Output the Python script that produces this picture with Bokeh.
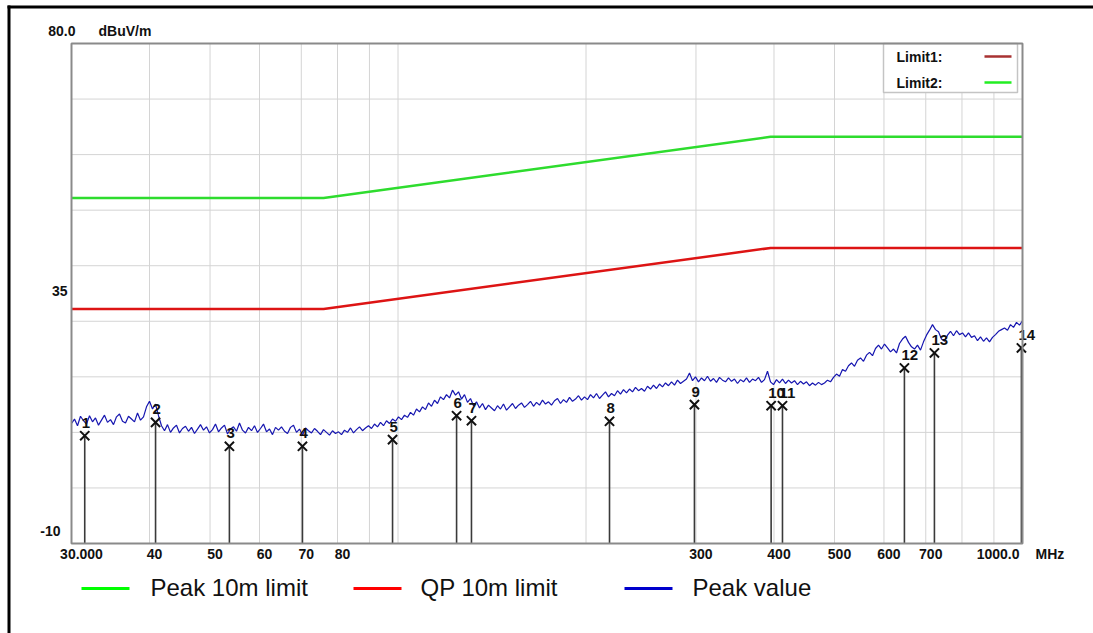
import numpy as np
from bokeh.plotting import figure
from bokeh.models import Range1d
from bokeh.core.properties import value
from bokeh.embed import file_html
from bokeh.resources import INLINE

# ---- data -----------------------------------------------------------------
f_min, f_max = 30, 1000          # MHz
y_min, y_max = -10, 80           # dBuV/m

# limit lines (dBuV/m) at their break frequencies (MHz)
limit_freq = [30, 76, 395, 1000]
qp_limit = [32.2, 32.2, 43.2, 43.2]
peak_limit = [52.2, 52.2, 63.2, 63.2]

# peak detector sweep, 30 MHz .. 1 GHz (log-spaced sweep points)
trace_db = [
    11.6, 12.4, 11.2, 12.9, 12.1, 11.5, 13.0, 11.9, 12.6, 11.3,
    12.2, 13.1, 11.8, 12.3, 11.4, 12.8, 13.3, 12.0, 11.7, 12.9,
    12.4, 11.9, 13.5, 12.2, 12.8, 14.6, 15.6, 14.2, 15.1, 13.0,
    11.2, 10.3, 11.4, 10.0, 10.8, 11.3, 9.9, 10.7, 11.1, 10.2,
    10.9, 9.8, 10.6, 11.4, 10.4, 11.0, 9.9, 10.5, 11.5, 10.1,
    10.8, 11.3, 9.7, 10.6, 11.0, 10.2, 11.7, 10.4, 9.9, 10.9,
    10.3, 11.2, 10.0, 10.7, 11.5, 10.1, 10.6, 9.6, 10.9, 10.4,
    11.0, 10.2, 9.8, 10.9, 11.3, 10.0, 10.6, 9.5, 10.8, 10.3,
    9.9, 10.7, 10.2, 9.6, 10.5, 10.0, 9.5, 10.3, 9.8, 10.1,
    9.6, 10.4, 10.0, 10.8, 9.9, 10.5, 11.0, 10.3, 10.8, 11.2,
    10.7, 11.5, 11.0, 11.8, 11.2, 12.1, 11.6, 12.4, 12.0, 12.8,
    12.3, 13.1, 12.7, 13.6, 13.1, 14.2, 13.7, 14.6, 14.1, 15.3,
    14.7, 15.8, 15.2, 16.4, 15.9, 16.8, 16.2, 17.6, 16.7, 17.3,
    16.0, 16.8, 15.4, 16.1, 14.8, 15.5, 14.4, 15.2, 14.1, 14.9,
    14.4, 13.9, 14.8, 14.2, 15.1, 14.0, 14.6, 15.2, 14.3, 14.9,
    15.3, 14.5, 15.0, 15.6, 14.7, 15.4, 14.9, 15.8, 15.1, 15.5,
    14.9, 15.7, 16.1, 15.2, 15.9, 15.4, 16.3, 15.6, 16.0, 16.6,
    15.8, 16.4, 15.9, 16.8, 16.2, 17.0, 16.1, 16.7, 17.3, 16.4,
    17.0, 16.6, 17.5, 16.9, 17.7, 17.1, 17.8, 17.3, 18.1, 17.5,
    17.9, 17.4, 18.3, 17.8, 18.5, 17.9, 18.7, 18.2, 18.9, 18.4,
    19.1, 18.5, 19.4, 18.8, 19.2, 19.6, 20.7, 19.3, 20.0, 19.1,
    19.8, 19.3, 20.1, 19.2, 19.7, 19.0, 19.9, 19.4, 19.1, 19.8,
    19.2, 19.6, 18.8, 19.5, 19.1, 19.8, 19.0, 19.6, 19.3, 19.9,
    19.0, 19.5, 21.0, 19.1, 18.6, 19.5, 18.9, 19.6, 18.8, 19.4,
    18.9, 19.3, 18.6, 19.2, 18.7, 19.1, 18.4, 18.9, 18.5, 19.0,
    18.6, 18.9, 19.4, 19.1, 19.9, 20.5, 20.1, 21.3, 21.0, 22.0,
    22.5, 21.9, 23.0, 23.4, 22.8, 23.9, 24.4, 23.8, 25.1, 25.7,
    25.0, 25.9, 25.2, 24.5, 25.0, 24.3, 26.0, 26.8, 27.3, 26.2,
    25.4, 25.0, 25.7, 24.8, 26.3, 27.5, 28.4, 29.4, 28.5, 28.1,
    26.8, 26.4, 27.5, 28.2, 27.4, 28.3, 27.6, 27.9, 27.2, 27.9,
    27.1, 27.4, 26.5, 27.2, 26.4, 27.0, 26.3, 27.1, 27.6, 28.2,
    28.5, 28.8, 28.4, 29.4, 28.9, 29.8, 29.3, 30.1,
]
trace_freq = np.geomspace(f_min, f_max, len(trace_db))

# measurement markers
marker_id = [str(i) for i in range(1, 15)]
marker_freq = [31.5, 40.9, 53.7, 70.3, 98.0, 124.1, 131.1, 218.1, 298.3,
               395.8, 412.7, 647.0, 722.7, 996.0]
marker_db = [9.4, 11.8, 7.5, 7.5, 8.7, 13.0, 12.1, 12.0, 15.0,
             14.8, 14.8, 21.6, 24.3, 25.2]

# axis ticks and grid
x_ticks = [30, 40, 50, 60, 70, 80, 300, 400, 500, 600, 700]
x_tick_text = ["30.000", "40", "50", "60", "70", "80", "300", "400", "500", "600", "700"]
y_ticks = [80, 35, -10]
y_tick_text = ["80.0", "35", "-10"]
x_grid = [30, 40, 50, 60, 70, 80, 90, 100, 200, 300, 400, 500, 600, 700, 800, 900, 1000]
y_grid = [-10, 0, 10, 20, 30, 40, 50, 60, 70, 80]

legend_text = ["Peak 10m limit", "QP 10m limit", "Peak value"]
key_text = ["Limit1:", "Limit2:"]

# ---- page geometry (pixels) -------------------------------------------------
W, H = 1093, 633
PX_L, PX_R, PX_T, PX_B = 71, 1022, 43, 543
dec_px = (PX_R - PX_L) / np.log10(f_max / f_min)
db_px = (PX_B - PX_T) / (y_max - y_min)


def px_to_f(px):
    return f_min * 10 ** ((px - PX_L) / dec_px)


def px_to_db(py):
    return y_max - (py - PX_T) / db_px


GREEN = "#2edc2e"
RED = "#dd1414"
BLUE = "#1616b0"
INK = "#111111"
FONT = "Liberation Sans"

p = figure(
    width=W, height=H, x_axis_type="log",
    x_range=Range1d(px_to_f(0), px_to_f(W)),
    y_range=Range1d(px_to_db(H), px_to_db(0)),
    x_axis_location=None, y_axis_location=None,
    min_border=0, min_border_left=0, min_border_right=0,
    min_border_top=0, min_border_bottom=0,
    output_backend="svg", toolbar_location=None,
    background_fill_color="white", border_fill_color="white",
    outline_line_color=None,
)
p.grid.visible = False

# grid
p.segment(x0=x_grid, x1=x_grid, y0=[y_min] * len(x_grid), y1=[y_max] * len(x_grid),
          line_color="#d4d4d4", line_width=1)
p.segment(x0=[f_min] * len(y_grid), x1=[f_max] * len(y_grid), y0=y_grid, y1=y_grid,
          line_color="#d4d4d4", line_width=1)

# limit lines
p.line(limit_freq, peak_limit, line_color=GREEN, line_width=2.5)
p.line(limit_freq, qp_limit, line_color=RED, line_width=2.5)

# trace
p.line(trace_freq, trace_db, line_color=BLUE, line_width=1.2)

# markers: drop lines, crosses, numbers
p.segment(x0=marker_freq, y0=[y_min] * len(marker_freq), x1=marker_freq, y1=marker_db,
          line_color="#3a3a3a", line_width=1.6)
p.scatter(marker_freq, marker_db, marker="x", size=13, line_color=INK, line_width=2)
p.text(marker_freq, marker_db, text=marker_id, x_offset=-3, y_offset=-8,
       text_align="left", text_baseline="bottom",
       text_font=value(FONT), text_font_style="bold", text_font_size="15px",
       text_color=INK)

# limit key box in the upper right corner
key_rows = [px_to_db(56), px_to_db(82)]
p.quad(left=[px_to_f(883)], right=[px_to_f(1017)], top=[y_max], bottom=[px_to_db(92)],
       fill_color="white", line_color="#c4c4c4", line_width=1.5)
p.text([px_to_f(896)] * 2, key_rows, text=key_text,
       text_align="left", text_baseline="middle",
       text_font=value(FONT), text_font_style="bold", text_font_size="14px",
       text_color=INK)
p.segment(x0=[px_to_f(984)] * 2, x1=[px_to_f(1011)] * 2, y0=key_rows, y1=key_rows,
          line_color=["#a83232", "#22ee22"], line_width=2.5)

# plot border
p.quad(left=[f_min], right=[f_max], top=[y_max], bottom=[y_min],
       fill_color=None, line_color="#8a8a8a", line_width=2)

# x tick labels
small = dict(text_font=value(FONT), text_font_style="bold", text_font_size="14px",
             text_color=INK, text_baseline="middle")
p.text(x_ticks, [y_min] * len(x_ticks), text=x_tick_text, text_align="center",
       x_offset=[10] + [5] * (len(x_ticks) - 1), y_offset=10, **small)
p.text([f_max, f_max], [y_min, y_min], text=["1000.0", "MHz"],
       text_align=["right", "left"], x_offset=[-3, 13], y_offset=10, **small)

# y tick labels and unit
p.text([f_min] * len(y_ticks), y_ticks, text=y_tick_text, text_align="right",
       x_offset=[4, -4, -11], y_offset=[-13, -3, -13], **small)
p.text([f_min], [y_max], text=["dBuV/m"], text_align="left",
       x_offset=27, y_offset=-13, **small)

# legend under the chart
leg_y = px_to_db(588)
p.segment(x0=[px_to_f(81), px_to_f(353), px_to_f(624)],
          x1=[px_to_f(129), px_to_f(401), px_to_f(672)],
          y0=[leg_y] * 3, y1=[leg_y] * 3,
          line_color=["#00ff00", "#ff0000", "#0000cc"], line_width=3)
p.text([px_to_f(150), px_to_f(420), px_to_f(692)], [px_to_db(587)] * 3, text=legend_text,
       text_align="left", text_baseline="middle",
       text_font=value(FONT), text_font_size="24px", text_color=INK)

# black page frame (top and left edges)
p.segment(x0=[px_to_f(7), px_to_f(8.5)], x1=[px_to_f(W), px_to_f(8.5)],
          y0=[px_to_db(6.5), px_to_db(5)], y1=[px_to_db(6.5), px_to_db(H)],
          line_color="#000000", line_width=3)

with open("out.html", "w") as fh:
    fh.write(file_html(p, INLINE))
